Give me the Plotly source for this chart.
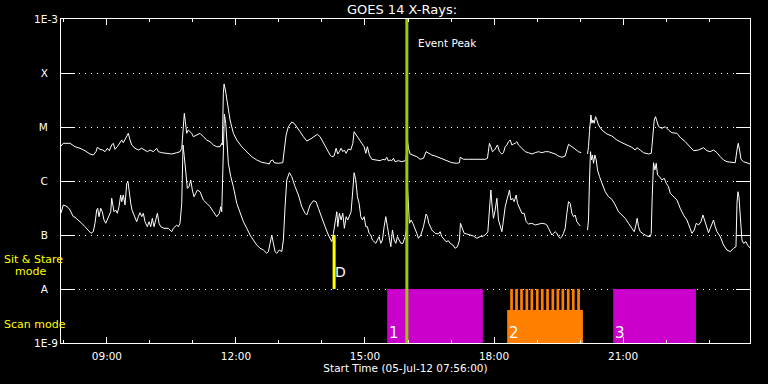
import datetime as dt
import numpy as np
import plotly.graph_objects as go

# ---------------- data (time in UT hours on 2012-07-05, flux as log10 W/m^2) -------------
DAY = dt.datetime(2012, 7, 5)
START_TIME = "2012-07-05 07:56:00"
END_TIME = "2012-07-05 23:57:00"

long_time_h = [
    7.933, 7.986, 8.143, 8.259, 8.375, 8.491, 8.607, 8.684, 8.747, 8.777,
    8.840, 8.903, 8.956, 9.010, 9.056, 9.112, 9.149, 9.189, 9.242, 9.305,
    9.345, 9.382, 9.421, 9.461, 9.498, 9.538, 9.577, 9.654, 9.731, 9.810,
    9.863, 9.940, 10.003, 10.080, 10.159, 10.196, 10.275, 10.391, 10.507, 10.624,
    10.700, 10.740, 10.777, 10.800, 10.824, 10.856, 10.893, 10.933, 10.973, 11.010,
    11.089, 11.166, 11.242, 11.321, 11.398, 11.475, 11.554, 11.631, 11.670, 11.684,
    11.707, 11.724, 11.754, 11.786, 11.824, 11.863, 11.940, 12.019, 12.135, 12.252,
    12.368, 12.484, 12.600, 12.717, 12.777, 12.810, 12.856, 12.886, 12.986, 13.089,
    13.126, 13.166, 13.219, 13.298, 13.352, 13.414, 13.491, 13.568, 13.647, 13.724,
    13.800, 13.893, 13.956, 14.033, 14.112, 14.189, 14.228, 14.282, 14.328, 14.368,
    14.405, 14.445, 14.484, 14.521, 14.561, 14.614, 14.670, 14.717, 14.747, 14.793,
    14.847, 14.926, 14.980, 15.019, 15.056, 15.103, 15.159, 15.275, 15.352, 15.414,
    15.468, 15.507, 15.545, 15.584, 15.624, 15.661, 15.700, 15.777, 15.856, 15.933,
    15.956, 15.986, 16.010, 16.049, 16.126, 16.205, 16.282, 16.359, 16.421, 16.475,
    16.554, 16.631, 16.707, 16.786, 16.903, 17.019, 17.135, 17.196, 17.212, 17.289,
    17.405, 17.521, 17.600, 17.677, 17.793, 17.847, 17.893, 17.926, 17.963, 18.010,
    18.080, 18.126, 18.182, 18.219, 18.259, 18.298, 18.335, 18.375, 18.414, 18.452,
    18.491, 18.531, 18.568, 18.647, 18.724, 18.800, 18.880, 18.956, 19.033, 19.112,
    19.189, 19.266, 19.345, 19.421, 19.498, 19.577, 19.654, 19.693, 19.731, 19.810,
    19.886, 19.963, 20.026, 20.100, 20.173, 20.196, 20.219, 20.252, 20.275, 20.298,
    20.328, 20.359, 20.391, 20.428, 20.507, 20.624, 20.740, 20.856, 20.973, 21.089,
    21.205, 21.282, 21.321, 21.398, 21.475, 21.591, 21.654, 21.670, 21.693, 21.724,
    21.754, 21.786, 21.824, 21.903, 21.980, 22.056, 22.135, 22.252, 22.328, 22.445,
    22.561, 22.638, 22.754, 22.870, 22.949, 23.026, 23.103, 23.182, 23.259, 23.335,
    23.414, 23.531, 23.607, 23.647, 23.677, 23.707, 23.740, 23.800, 23.880, 23.956,
]
long_log10_flux = [
    -5.352, -5.302, -5.302, -5.365, -5.394, -5.439, -5.500, -5.519, -5.457, -5.376,
    -5.413, -5.426, -5.457, -5.394, -5.439, -5.333, -5.302, -5.413, -5.365, -5.302,
    -5.241, -5.291, -5.228, -5.148, -5.117, -5.241, -5.333, -5.394, -5.426, -5.394,
    -5.426, -5.457, -5.426, -5.457, -5.394, -5.457, -5.476, -5.487, -5.500, -5.476,
    -5.457, -5.394, -4.931, -4.746, -4.902, -5.117, -5.056, -5.087, -5.117, -5.180,
    -5.148, -5.117, -5.180, -5.241, -5.272, -5.333, -5.365, -5.365, -5.302, -5.333,
    -4.376, -4.204, -4.315, -4.500, -4.648, -4.870, -5.117, -5.241, -5.365, -5.457,
    -5.550, -5.611, -5.654, -5.672, -5.685, -5.624, -5.611, -5.661, -5.672, -5.661,
    -5.426, -5.148, -4.994, -4.907, -4.931, -4.994, -5.087, -5.180, -5.259, -5.228,
    -5.180, -5.135, -5.180, -5.302, -5.426, -5.519, -5.550, -5.537, -5.394, -5.500,
    -5.457, -5.394, -5.457, -5.426, -5.487, -5.407, -5.426, -5.302, -5.087, -5.148,
    -5.209, -5.302, -5.365, -5.487, -5.365, -5.519, -5.598, -5.611, -5.624, -5.598,
    -5.611, -5.561, -5.630, -5.611, -5.624, -5.580, -5.643, -5.624, -5.643, -5.624,
    -5.593, -5.241, -5.394, -5.500, -5.519, -5.550, -5.598, -5.580, -5.457, -5.487,
    -5.519, -5.537, -5.561, -5.598, -5.630, -5.661, -5.672, -5.661, -5.561, -5.598,
    -5.598, -5.598, -5.611, -5.598, -5.598, -5.580, -5.302, -5.365, -5.457, -5.426,
    -5.333, -5.457, -5.500, -5.476, -5.365, -5.333, -5.272, -5.241, -5.333, -5.315,
    -5.302, -5.272, -5.333, -5.394, -5.457, -5.476, -5.500, -5.476, -5.457, -5.476,
    -5.457, -5.457, -5.476, -5.500, -5.537, -5.561, -5.537, -5.426, -5.320, -5.365,
    -5.413, -5.457, -5.476, None, -5.500, -5.365, -5.087, -4.778, -4.931, -4.870,
    -4.931, -4.809, -4.870, -4.963, -5.056, -5.130, -5.167, -5.241, -5.291, -5.333,
    -5.376, -5.426, -5.383, -5.426, -5.476, -5.500, -5.487, -5.365, -5.056, -4.870,
    -4.809, -4.902, -4.994, -5.024, -4.994, -5.056, -5.106, -5.117, -5.191, -5.272,
    -5.365, -5.439, -5.426, -5.383, -5.439, -5.457, -5.426, -5.476, -5.550, -5.611,
    -5.643, -5.661, -5.661, -5.426, -5.302, -5.426, -5.598, -5.643, -5.661, -5.685,
]

short_time_h = [
    7.933, 7.986, 8.049, 8.103, 8.143, 8.219, 8.259, 8.335, 8.414, 8.491,
    8.568, 8.631, 8.684, 8.724, 8.763, 8.786, 8.817, 8.856, 8.893, 8.933,
    8.973, 9.010, 9.049, 9.089, 9.112, 9.135, 9.166, 9.205, 9.242, 9.282,
    9.321, 9.345, 9.382, 9.421, 9.461, 9.491, 9.521, 9.554, 9.584, 9.614,
    9.654, 9.693, 9.731, 9.770, 9.810, 9.847, 9.886, 9.940, 9.980, 10.019,
    10.056, 10.096, 10.135, 10.173, 10.212, 10.252, 10.328, 10.428, 10.507, 10.545,
    10.584, 10.624, 10.661, 10.700, 10.740, 10.770, 10.800, 10.840, 10.870, 10.910,
    10.949, 10.986, 11.026, 11.066, 11.103, 11.166, 11.242, 11.321, 11.398, 11.475,
    11.554, 11.614, 11.647, 11.670, 11.693, 11.717, 11.731, 11.763, 11.786, 11.824,
    11.880, 11.940, 12.019, 12.096, 12.173, 12.252, 12.328, 12.405, 12.484, 12.561,
    12.638, 12.717, 12.754, 12.793, 12.833, 12.870, 12.910, 12.949, 13.010, 13.066,
    13.103, 13.142, 13.182, 13.242, 13.298, 13.375, 13.452, 13.531, 13.607, 13.647,
    13.724, 13.800, 13.863, 13.917, 13.996, 14.073, 14.149, 14.228, 14.266, 14.305,
    14.345, 14.368, 14.405, 14.445, 14.484, 14.521, 14.561, 14.600, 14.638, 14.677,
    14.717, 14.747, 14.786, 14.824, 14.863, 14.903, 14.940, 14.980, 15.019, 15.056,
    15.096, 15.135, 15.173, 15.212, 15.252, 15.289, 15.328, 15.368, 15.405, 15.445,
    15.484, 15.521, 15.561, 15.600, 15.638, 15.677, 15.717, 15.754, 15.793, 15.833,
    15.880, 15.933, 15.973, 15.986, 16.033, 16.073, 16.112, 16.149, 16.205, 16.242,
    16.298, 16.359, 16.421, 16.452, 16.484, 16.554, 16.631, 16.707, 16.747, 16.786,
    16.840, 16.886, 16.940, 16.980, 17.042, 17.096, 17.149, 17.196, 17.219, 17.252,
    17.305, 17.368, 17.445, 17.521, 17.600, 17.677, 17.754, 17.817, 17.856, 17.893,
    17.926, 17.956, 17.986, 18.026, 18.066, 18.103, 18.142, 18.182, 18.219, 18.259,
    18.298, 18.335, 18.359, 18.391, 18.428, 18.468, 18.514, 18.545, 18.591, 18.647,
    18.700, 18.747, 18.800, 18.880, 18.956, 19.033, 19.112, 19.189, 19.228, 19.266,
    19.305, 19.345, 19.382, 19.421, 19.461, 19.498, 19.538, 19.577, 19.614, 19.654,
    19.693, 19.731, 19.770, 19.810, 19.847, 19.886, 19.926, 19.963, 20.003, 20.100,
    20.173, 20.196, 20.219, 20.242, 20.266, 20.289, 20.312, 20.345, 20.375, 20.405,
    20.452, 20.507, 20.584, 20.661, 20.740, 20.817, 20.893, 20.973, 21.049, 21.126,
    21.205, 21.259, 21.298, 21.328, 21.359, 21.398, 21.475, 21.554, 21.631, 21.654,
    21.677, 21.707, 21.740, 21.770, 21.800, 21.847, 21.903, 21.956, 22.003, 22.056,
    22.096, 22.173, 22.252, 22.328, 22.405, 22.484, 22.545, 22.600, 22.654, 22.700,
    22.754, 22.810, 22.856, 22.893, 22.949, 22.986, 23.026, 23.066, 23.103, 23.142,
    23.182, 23.259, 23.335, 23.414, 23.491, 23.568, 23.624, 23.647, 23.670, 23.693,
    23.724, 23.763, 23.800, 23.856, 23.893, 23.956,
]
short_log10_flux = [
    -6.593, -6.444, -6.463, -6.494, -6.537, -6.661, -6.672, -6.722, -6.783, -6.846,
    -6.907, -6.969, -6.939, -6.783, -6.537, -6.506, -6.661, -6.506, -6.569, -6.722,
    -6.783, -6.722, -6.661, -6.569, -6.320, -6.413, -6.569, -6.537, -6.598, -6.476,
    -6.259, -6.383, -6.259, -6.444, -6.043, -6.013, -6.228, -6.413, -6.537, -6.598,
    -6.661, -6.754, -6.661, -6.587, -6.661, -6.598, -6.754, -6.846, -6.754, -6.846,
    -6.691, -6.846, -6.722, -6.598, -6.783, -6.846, -6.876, -6.876, -6.939, -6.876,
    -6.846, -6.815, -6.846, -6.783, -6.413, -5.333, -5.550, -5.981, -6.135, -6.106,
    -5.981, -6.167, -6.291, -6.228, -6.167, -6.198, -6.352, -6.413, -6.476, -6.569,
    -6.661, -6.598, -6.476, -6.569, -5.981, -5.056, -4.759, -4.931, -5.241, -5.672,
    -5.920, -6.106, -6.413, -6.598, -6.754, -6.876, -7.000, -7.093, -7.185, -7.246,
    -7.278, -7.339, -7.309, -7.154, -7.000, -7.154, -7.309, -7.339, -7.278, -7.309,
    -7.093, -6.476, -5.981, -5.846, -5.920, -6.106, -6.259, -6.476, -6.598, -6.630,
    -6.444, -6.365, -6.383, -6.506, -6.661, -6.846, -7.000, -7.124, -6.969, -6.754,
    -6.569, -6.846, -6.598, -6.722, -6.598, -6.876, -6.661, -6.722, -6.630, -6.569,
    -6.167, -5.846, -5.981, -6.291, -6.413, -6.661, -6.722, -6.661, -6.846, -6.846,
    -6.969, -7.000, -7.093, -7.124, -7.154, -7.093, -7.031, -7.154, -7.093, -6.846,
    -6.661, -6.846, -7.031, -7.217, -6.907, -7.093, -7.154, -7.031, -7.093, -7.154,
    -7.154, -7.031, -6.846, -6.074, -6.783, -6.722, -6.783, -6.846, -6.969, -7.061,
    -7.000, -6.846, -6.611, -6.661, -6.783, -6.907, -6.969, -6.981, -6.939, -7.031,
    -7.080, -7.124, -7.106, -7.154, -7.185, -7.246, -7.217, -7.093, -6.783, -6.846,
    -6.969, -6.981, -7.000, -7.019, -7.061, -7.031, -7.019, -6.981, -6.939, -6.413,
    -6.167, -6.476, -6.691, -6.537, -6.320, -6.722, -6.846, -6.939, -6.722, -6.476,
    -6.352, -6.198, -6.167, -6.352, -6.320, -6.383, -6.259, -6.413, -6.506, -6.598,
    -6.598, -6.754, -6.796, -6.783, -6.815, -6.796, -6.783, -6.796, -6.815, -6.876,
    -6.939, -7.000, -6.969, -6.939, -6.969, -7.031, -7.061, -7.031, -6.969, -6.876,
    -6.598, -6.383, -6.413, -6.598, -6.661, -6.630, -6.754, -6.783, -6.833, None,
    -6.907, -6.722, -5.981, -5.457, -5.611, -5.519, -5.672, -5.519, -5.611, -5.796,
    -5.920, -6.043, -6.198, -6.291, -6.339, -6.444, -6.569, -6.630, -6.691, -6.783,
    -6.876, -6.939, -6.815, -6.691, -6.846, -6.939, -6.981, -7.019, -7.031, -6.969,
    -6.291, -5.661, -5.796, -5.672, -5.889, -5.920, -5.981, -5.950, -6.043, -6.106,
    -6.228, -6.291, -6.352, -6.506, -6.630, -6.722, -6.876, -6.969, -6.907, -6.783,
    -6.815, -6.754, -6.630, -6.722, -6.846, -6.957, -6.876, -6.783, -6.722, -6.846,
    -6.939, -7.031, -7.185, -7.278, -7.309, -7.246, -7.217, -6.413, -6.198, -6.291,
    -6.722, -7.093, -7.154, -7.124, -7.185, -7.246,
]

# Y-axis GOES classes
class_flux = [1e-9, 1e-8, 1e-7, 1e-6, 1e-5, 1e-4, 1e-3]
class_labels = ["1E-9", "A", "B", "C", "M", "X", "1E-3"]

# Event / observing times (UT hours)
event_peak_h = 15.973
sit_stare_h = 14.282
sit_stare_flux = [1e-8, 1e-7]
sit_stare_label = "D"

# Raster scans (UT hours)
scan_labels = ["1", "2", "3"]
scan_start_h = [15.515, 18.305, 20.770]
scan_end_h = [17.740, 20.066, 22.694]
scan_colors = ["#CC00CC", "#FF8000", "#CC00CC"]
scan_flux_low = 1e-9
scan_flux_high = 1e-8
scan2_base_top_flux = 4.1e-9
scan2_exposure_start_h = [18.375, 18.491, 18.607, 18.731, 18.847, 18.973, 19.089,
                          19.212, 19.335, 19.452, 19.568, 19.693, 19.810, 19.933]
scan2_exposure_len_h = 0.063

assert len(long_time_h) == len(long_log10_flux)
assert len(short_time_h) == len(short_log10_flux)


def to_dt(hours):
    return [DAY + dt.timedelta(hours=h) for h in hours]


def to_flux(logs):
    arr = np.array([np.nan if v is None else v for v in logs], dtype=float)
    return 10.0 ** arr


FONT = "DejaVu Sans"
W, H = 768, 384
NBSP = "\u00a0"
fig = go.Figure()


def rect_xy(t0, t1, lo, hi):
    return ([DAY + dt.timedelta(hours=t) for t in (t0, t0, t1, t1, t0)],
            [lo, hi, hi, lo, lo])


# scan blocks
for lab, t0, t1, col in zip(scan_labels, scan_start_h, scan_end_h, scan_colors):
    if lab == "2":
        xs, ys = rect_xy(t0, t1, scan_flux_low, scan2_base_top_flux)
        for ts in scan2_exposure_start_h:
            x2, y2 = rect_xy(ts, ts + scan2_exposure_len_h, scan2_base_top_flux * 0.98, scan_flux_high)
            xs += [None] + x2
            ys += [None] + y2
    else:
        xs, ys = rect_xy(t0, t1, scan_flux_low, scan_flux_high)
    fig.add_trace(go.Scatter(x=xs, y=ys, mode="lines", fill="toself", fillcolor=col,
                             line=dict(width=0, color=col), hoverinfo="skip"))

# GOES curves
fig.add_trace(go.Scatter(x=to_dt(long_time_h), y=to_flux(long_log10_flux), mode="lines",
                         line=dict(color="white", width=1), connectgaps=False, name="1-8 A"))
fig.add_trace(go.Scatter(x=to_dt(short_time_h), y=to_flux(short_log10_flux), mode="lines",
                         line=dict(color="white", width=1), connectgaps=False, name="0.5-4 A"))

# sit & stare marker
fig.add_trace(go.Scatter(x=to_dt([sit_stare_h, sit_stare_h]), y=sit_stare_flux, mode="lines",
                         line=dict(color="#FFFF00", width=3), hoverinfo="skip"))
# event peak
fig.add_trace(go.Scatter(x=to_dt([event_peak_h, event_peak_h]), y=[class_flux[0], class_flux[-1]],
                         mode="lines", line=dict(color="#99CC00", width=3), hoverinfo="skip"))

annotations = [
    dict(text="Event Peak", x=to_dt([event_peak_h])[0], xref="x", xanchor="left", xshift=9,
         y=0.927, yref="paper", yanchor="middle", showarrow=False,
         font=dict(family=FONT, size=10.5, color="white")),
    dict(text=sit_stare_label, x=to_dt([sit_stare_h])[0], xref="x", xanchor="left", xshift=-1,
         y=0.219, yref="paper", yanchor="middle", showarrow=False,
         font=dict(family=FONT, size=14, color="white")),
    dict(text="Sit & Stare", x=-0.0856, xref="paper", xanchor="left", y=0.259, yref="paper",
         yanchor="middle", showarrow=False, font=dict(family=FONT, size=11, color="#FFFF00")),
    dict(text="mode", x=-0.0701, xref="paper", xanchor="left", y=0.222, yref="paper",
         yanchor="middle", showarrow=False, font=dict(family=FONT, size=11, color="#FFFF00")),
    dict(text="Scan mode", x=-0.0856, xref="paper", xanchor="left", y=0.0586, yref="paper",
         yanchor="middle", showarrow=False, font=dict(family=FONT, size=11, color="#FFFF00")),
]
for lab, t0 in zip(scan_labels, scan_start_h):
    annotations.append(dict(text=lab, x=to_dt([t0])[0], xref="x", xanchor="left", xshift=0,
                            y=0.0324, yref="paper", yanchor="middle", showarrow=False,
                            font=dict(family=FONT, size=15, color="white")))

# single-letter class labels sit centred under the wider 1E-x labels
y_ticktext = [lab if len(lab) > 1 else lab + NBSP * 3 for lab in class_labels]

fig.update_layout(
    width=W, height=H,
    margin=dict(l=61, r=18, t=19, b=41, autoexpand=False),
    paper_bgcolor="black", plot_bgcolor="black",
    showlegend=False,
    title=dict(text="GOES 14 X-Rays:", x=402 / W, xanchor="center", xref="container",
               y=1 - 9.5 / H, yanchor="middle", yref="container",
               font=dict(family=FONT, size=13, color="white")),
    annotations=annotations,
    xaxis=dict(
        type="date", range=[START_TIME, END_TIME],
        showgrid=False, zeroline=False,
        showline=True, linecolor="white", linewidth=1, mirror="ticks",
        ticks="inside", ticklen=6, tickwidth=1, tickcolor="white",
        tick0="2012-07-05 00:00", dtick=3 * 3600 * 1000, tickformat="%H:%M",
        ticklabelstandoff=3,
        tickfont=dict(family=FONT, size=10.5, color="white"),
        minor=dict(dtick=3600 * 1000, tick0="2012-07-05 00:00", ticks="inside",
                   ticklen=3, tickwidth=1, tickcolor="white", showgrid=False),
        title=dict(text="Start Time (05-Jul-12 07:56:00)", standoff=2,
                   font=dict(family=FONT, size=10.5, color="white")),
    ),
    yaxis=dict(
        type="log", range=[-9, -3],
        tickvals=class_flux, ticktext=y_ticktext,
        showgrid=True, gridcolor="white", gridwidth=1, griddash="1px,5px",
        zeroline=False,
        showline=True, linecolor="white", linewidth=1, mirror="ticks",
        ticks="inside", ticklen=14, tickwidth=1, tickcolor="white",
        tickfont=dict(family=FONT, size=10.5, color="white"),
    ),
)

# place the figure at the page's top-left corner (no default body margin)
fig.write_html("out.html", config={"displayModeBar": False},
               post_script="document.body.style.margin='0';document.body.style.background='black';")
